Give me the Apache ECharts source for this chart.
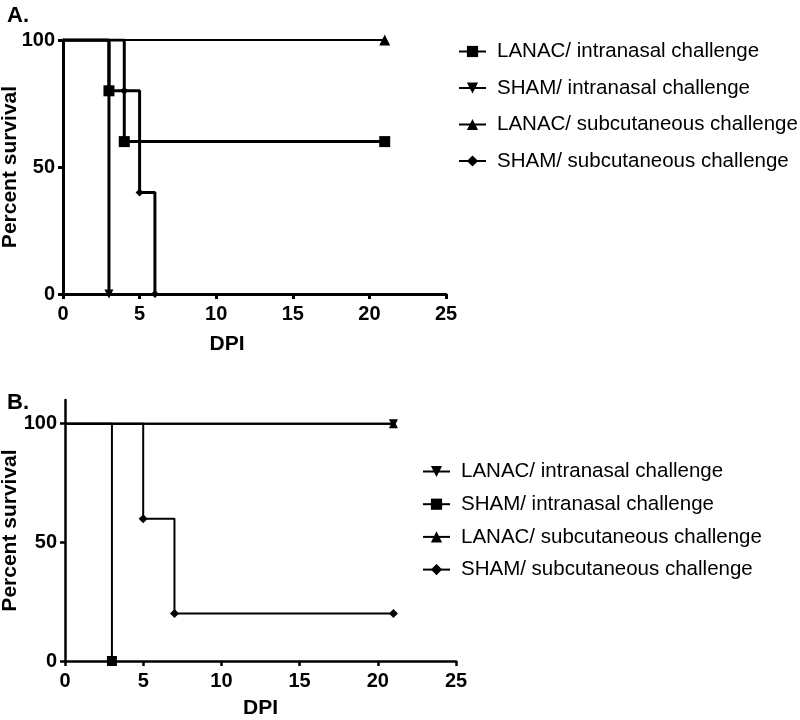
<!DOCTYPE html>
<html>
<head>
<meta charset="utf-8">
<script src="https://cdn.jsdelivr.net/npm/echarts@6/dist/echarts.min.js"></script>
<style>
html,body{margin:0;padding:0;background:#fff;}
#a,#b{position:absolute;left:0;width:800px;height:360px;}
#a{top:0;}
#b{top:360px;}
</style>
</head>
<body>
<div id="a"></div>
<div id="b"></div>
<script>
// Panel A data: [day, percent survival]
const namesA = ['LANAC/ intranasal challenge','SHAM/ intranasal challenge','LANAC/ subcutaneous challenge','SHAM/ subcutaneous challenge'];
const a_lanacIN = [[0,100],[3,80],[4,60],[21,60]];
const a_shamIN = [[0,100],[3,0]];
const a_lanacSC = [[0,100],[21,100]];
const a_shamSC = [[0,100],[4,80],[5,40],[6,0]];

// Panel B data
const namesB = ['LANAC/ intranasal challenge','SHAM/ intranasal challenge','LANAC/ subcutaneous challenge','SHAM/ subcutaneous challenge'];
const b_lanacIN = [[0,100],[21,100]];
const b_shamIN = [[0,100],[3,0]];
const b_lanacSC = [[0,100],[21,100]];
const b_shamSC = [[0,100],[5,60],[7,20],[21,20]];

const xTicks = [0,5,10,15,20,25];
const yTicks = [0,50,100];

const FONT = "'Liberation Sans', Arial, Helvetica, sans-serif";
const TRI_DOWN = 'path://M0,0 L10,0 L5,10 Z';
const TRI_UP = 'path://M5,0 L10,10 L0,10 Z';

function pts(arr){
  return arr.map((p,i)=> i===0 ? {value:p, symbol:'none'} : {value:p});
}

function mkSeries(name, data, symbol, size, lw){
  return {
    type:'line', name:name, step:'end', data:pts(data),
    symbol:symbol, symbolSize:size, showSymbol:true,
    lineStyle:{color:'#000', width:lw},
    itemStyle:{color:'#000', borderWidth:0},
    emphasis:{disabled:true}, animation:false, z:3
  };
}

function axisCommon(lw){
  return {
    axisLine:{show:true, onZero:false, lineStyle:{color:'#000', width:lw}},
    axisTick:{show:true, inside:false, length:5, lineStyle:{color:'#000', width:lw}},
    axisLabel:{color:'#000', fontSize:20, fontWeight:'bold', fontFamily:FONT},
    splitLine:{show:false}
  };
}

function build(opts){
  const lw = opts.lw;
  const xa = Object.assign(axisCommon(lw), {
    type:'value', min:0, max:25, interval:5,
    name:'DPI', nameLocation:'middle', nameGap:opts.xNameGap, nameMoveOverlap:false,
    nameTextStyle:{color:'#000', fontSize:21, fontWeight:'bold', fontFamily:FONT, padding:opts.xNamePad}
  });
  xa.axisLabel.margin = 10;
  const ya = Object.assign(axisCommon(lw), {
    type:'value', min:0, max:opts.ymax, interval:50,
    name:'Percent survival', nameLocation:'middle', nameGap:opts.yNameGap, nameRotate:90, nameMoveOverlap:false,
    nameTextStyle:{color:'#000', fontSize:21, fontWeight:'bold', fontFamily:FONT}
  });
  ya.axisLabel.margin = 8;
  ya.axisLabel.customValues = yTicks;
  ya.axisTick.customValues = yTicks;
  xa.axisLabel.customValues = xTicks;
  xa.axisTick.customValues = xTicks;
  const grid = Object.assign({containLabel:false, outerBoundsMode:'none'}, opts.grid);
  return {
    backgroundColor:'#fff',
    animation:false,
    title:{text:opts.title, left:2, top:opts.titleTop, textStyle:{color:'#000', fontSize:22, fontWeight:'bold', fontFamily:FONT}},
    grid:grid,
    xAxis:xa, yAxis:ya,
    legend:{
      orient:'vertical', left:opts.legLeft, top:opts.legTop,
      itemWidth:27, itemHeight:14, itemGap:opts.legGap,
      textStyle:{color:'#000', fontSize:20.5, fontFamily:FONT, padding:[0,0,0,6]},
      data:opts.names, selectedMode:false
    },
    series:opts.series
  };
}

const chartA = echarts.init(document.getElementById('a'));
chartA.setOption(build({
  lw:3, ymax:100, title:'A.', titleTop:0,
  grid:{left:63, top:40, width:383, height:254},
  xNameGap:40, xNamePad:[0,55,0,0], yNameGap:42,
  legLeft:453, legTop:36, legGap:15.5, names:namesA,
  series:[
    mkSeries(namesA[0], a_lanacIN, 'rect', 11, 3),
    mkSeries(namesA[1], a_shamIN, TRI_DOWN, 9, 3),
    mkSeries(namesA[2], a_lanacSC, TRI_UP, 11, 1.8),
    mkSeries(namesA[3], a_shamSC, 'diamond', 8, 3)
  ]
}));

const chartB = echarts.init(document.getElementById('b'));
chartB.setOption(build({
  lw:2.5, ymax:110, title:'B.', titleTop:27,
  grid:{left:65, top:40, width:391, height:261},
  xNameGap:37, xNamePad:[0,0,0,0], yNameGap:44,
  legLeft:417, legTop:96, legGap:11.7, names:namesB,
  series:[
    mkSeries(namesB[0], b_lanacIN, TRI_DOWN, 9, 2),
    mkSeries(namesB[1], b_shamIN, 'rect', 10, 2),
    mkSeries(namesB[2], b_lanacSC, TRI_UP, 9, 2),
    mkSeries(namesB[3], b_shamSC, 'diamond', 9, 2)
  ]
}));
</script>
</body>
</html>
